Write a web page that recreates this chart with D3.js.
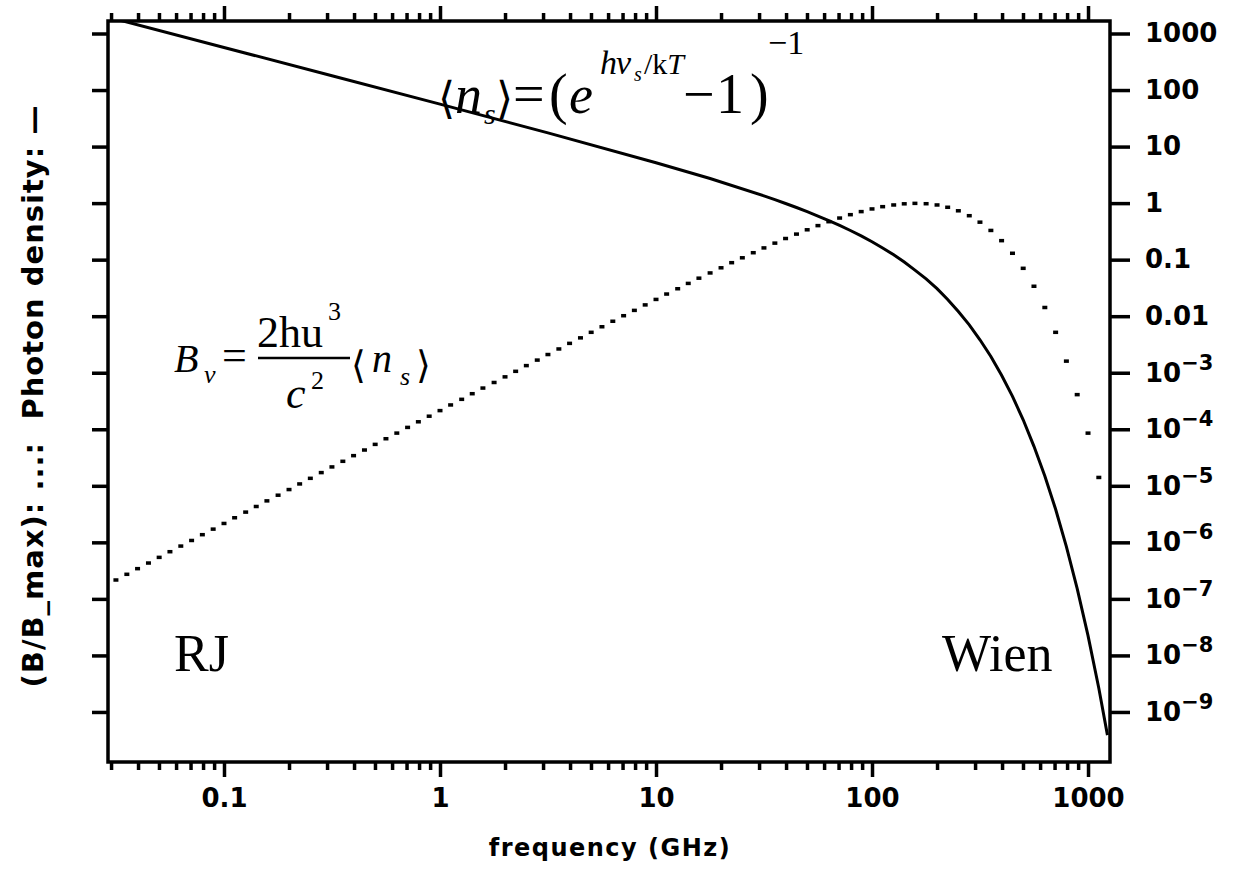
<!DOCTYPE html>
<html>
<head>
<meta charset="utf-8">
<script src="https://cdn.jsdelivr.net/npm/d3@7"></script>
<style>
  body { margin: 0; background: #fff; }
  text { fill: #000; }
</style>
</head>
<body>
<div id="chart"></div>
<script>
// frequency grid of the Planck points (GHz)
const freqGHz = [0.0316, 0.0355, 0.0398, 0.0447, 0.0501, 0.0562, 0.0631, 0.0708, 0.0794, 0.0891,
  0.1, 0.112, 0.126, 0.141, 0.158, 0.178, 0.2, 0.224, 0.251, 0.282,
  0.316, 0.355, 0.398, 0.447, 0.501, 0.562, 0.631, 0.708, 0.794, 0.891,
  1, 1.12, 1.26, 1.41, 1.58, 1.78, 2.0, 2.24, 2.51, 2.82,
  3.16, 3.55, 3.98, 4.47, 5.01, 5.62, 6.31, 7.08, 7.94, 8.91,
  10, 11.2, 12.6, 14.1, 15.8, 17.8, 20, 22.4, 25.1, 28.2,
  31.6, 35.5, 39.8, 44.7, 50.1, 56.2, 63.1, 70.8, 79.4, 89.1,
  100, 112, 126, 141, 158, 178, 200, 224, 251, 282,
  316, 355, 398, 447, 501, 562, 631, 708, 794, 891,
  1000, 1122];

// B / B_max  (dotted)
const brightness = [2.18e-7, 2.75e-7, 3.46e-7, 4.35e-7, 5.48e-7, 6.90e-7, 8.68e-7, 1.09e-6, 1.38e-6, 1.73e-6,
  2.18e-6, 2.75e-6, 3.46e-6, 4.35e-6, 5.47e-6, 6.89e-6, 8.67e-6, 1.09e-5, 1.37e-5, 1.73e-5,
  2.18e-5, 2.74e-5, 3.45e-5, 4.34e-5, 5.46e-5, 6.87e-5, 8.64e-5, 1.09e-4, 1.37e-4, 1.72e-4,
  2.16e-4, 2.72e-4, 3.42e-4, 4.30e-4, 5.41e-4, 6.79e-4, 8.54e-4, 1.07e-3, 1.35e-3, 1.69e-3,
  2.12e-3, 2.66e-3, 3.34e-3, 4.18e-3, 5.24e-3, 6.57e-3, 8.22e-3, 0.0103, 0.0128, 0.0160,
  0.0200, 0.0249, 0.0309, 0.0384, 0.0475, 0.0588, 0.0725, 0.0893, 0.109, 0.134,
  0.163, 0.198, 0.239, 0.286, 0.341, 0.404, 0.474, 0.550, 0.631, 0.715,
  0.797, 0.874, 0.937, 0.982, 1.000, 0.986, 0.937, 0.853, 0.739, 0.605,
  0.465, 0.332, 0.219, 0.131, 0.0710, 0.0342, 0.0144, 5.24e-3, 1.62e-3, 4.14e-4,
  8.63e-5, 1.42e-5];

// photon occupation number <n_s> (solid)
const lineFreqGHz = [0.0316, 0.1, 0.316, 1, 3.16, 10, 17.8,
  31.6, 35.5, 39.8, 44.7, 50.1, 56.2, 63.1, 70.8, 79.4, 89.1,
  100, 112, 126, 141, 158, 178, 200, 224, 251, 282,
  316, 355, 398, 447, 501, 562, 631, 708, 794, 891,
  1000, 1122, 1230];
const occupancy = [1795, 567, 179, 56.3, 17.5, 5.19, 2.72,
  1.34, 1.15, 0.984, 0.836, 0.706, 0.591, 0.491, 0.403, 0.328, 0.263,
  0.207, 0.161, 0.122, 0.0906, 0.0653, 0.0456, 0.0307, 0.0198, 0.0121, 7.04e-3,
  3.83e-3, 1.94e-3, 9.02e-4, 3.83e-4, 1.47e-4, 4.99e-5, 1.49e-5, 3.85e-6, 8.40e-7, 1.52e-7,
  2.24e-8, 2.62e-9, 3.89e-10];

const xTickValues = [0.1, 1, 10, 100, 1000];
const xTickLabels = ['0.1', '1', '10', '100', '1000'];
const yTickValues = [1000, 100, 10, 1, 0.1, 0.01, 1e-3, 1e-4, 1e-5, 1e-6, 1e-7, 1e-8, 1e-9];
const yTickLabels = ['1000', '100', '10', '1', '0.1', '0.01',
  '10^\u22123', '10^\u22124', '10^\u22125', '10^\u22126', '10^\u22127', '10^\u22128', '10^\u22129'];

function makeGraph() {
    const w = 1235, h = 871;
    const left = 108, right = 1110, top = 21, bottom = 762;
    const pixelFont = '"DejaVu Sans", sans-serif';

    const svg = d3.select('#chart')
        .append('svg')
        .attr('width', w)
        .attr('height', h);

    const xScale = d3.scaleLog().domain([0.02904, 1264]).range([left, right]);
    const yScale = d3.scaleLog().domain([1664, 1.303e-10]).range([top, bottom]);

    svg.append('clipPath').attr('id', 'plot-clip')
        .append('rect')
        .attr('x', left).attr('y', top)
        .attr('width', right - left).attr('height', bottom - top);

    const plot = svg.append('g').attr('clip-path', 'url(#plot-clip)');

    // solid line: occupation number
    const line = d3.line()
        .x((d, i) => xScale(lineFreqGHz[i]))
        .y(d => yScale(d));
    plot.append('path')
        .datum(occupancy)
        .attr('d', line)
        .attr('fill', 'none')
        .attr('stroke', '#000')
        .attr('stroke-width', 3);

    // dotted: normalised brightness
    plot.selectAll('.dot')
        .data(brightness)
        .enter()
        .append('rect')
        .attr('class', 'dot')
        .attr('x', (d, i) => xScale(freqGHz[i]) - 2.5)
        .attr('y', d => yScale(d) - 1.5)
        .attr('width', 5)
        .attr('height', 3.5)
        .attr('fill', '#000');

    // axes
    const minor = xScale.ticks().filter(v => !xTickValues.includes(v));

    function styleAxis(g) {
        g.select('.domain').remove();
        g.selectAll('line').attr('stroke', '#000').attr('stroke-width', 3.5);
        g.attr('font-family', pixelFont).attr('font-size', 26).attr('font-weight', 'bold');
    }

    svg.append('g').attr('transform', `translate(0,${bottom})`)
        .call(d3.axisBottom(xScale).tickValues(minor).tickSize(8).tickFormat(() => ''))
        .call(styleAxis);
    svg.append('g').attr('transform', `translate(0,${bottom})`)
        .call(d3.axisBottom(xScale).tickValues(xTickValues).tickSize(15).tickPadding(12)
            .tickFormat((d, i) => xTickLabels[i]))
        .call(styleAxis);
    svg.append('g').attr('transform', `translate(0,${top})`)
        .call(d3.axisTop(xScale).tickValues(minor).tickSize(8).tickFormat(() => ''))
        .call(styleAxis);
    svg.append('g').attr('transform', `translate(0,${top})`)
        .call(d3.axisTop(xScale).tickValues(xTickValues).tickSize(15).tickFormat(() => ''))
        .call(styleAxis);

    svg.append('g').attr('transform', `translate(${left},0)`)
        .call(d3.axisLeft(yScale).tickValues(yTickValues).tickSize(16).tickFormat(() => ''))
        .call(styleAxis);

    const gR = svg.append('g').attr('transform', `translate(${right},0)`)
        .call(d3.axisRight(yScale).tickValues(yTickValues).tickSize(20).tickPadding(15)
            .tickFormat(() => ''))
        .call(styleAxis);
    gR.selectAll('.tick text').each(function(d, i) {
        const t = d3.select(this);
        const parts = yTickLabels[i].split('^');
        t.append('tspan').text(parts[0]);
        if (parts.length > 1) {
            t.append('tspan').attr('dy', -12).attr('font-size', 21).text(parts[1]);
        }
    });

    // frame
    svg.append('rect')
        .attr('x', left).attr('y', top)
        .attr('width', right - left).attr('height', bottom - top)
        .attr('fill', 'none')
        .attr('stroke', '#000')
        .attr('stroke-width', 3.5);

    // axis titles
    svg.append('text')
        .attr('x', 610).attr('y', 856)
        .attr('text-anchor', 'middle')
        .style('font-family', pixelFont)
        .style('font-weight', 'bold')
        .style('font-size', '24px')
        .style('letter-spacing', '1.5px')
        .text('frequency (GHz)');

    svg.append('text')
        .attr('transform', 'translate(43,396) rotate(-90)')
        .attr('text-anchor', 'middle')
        .style('font-family', pixelFont)
        .style('font-weight', 'bold')
        .style('font-size', '29px')
        .style('letter-spacing', '1px')
        .style('white-space', 'pre')
        .text('(B/B_max): ...:  Photon density: \u2014');

    // equations and labels
    function put(txt, x, y, size, italic, family) {
        return svg.append('text')
            .attr('x', x).attr('y', y)
            .style('font-family', family || '"Liberation Serif", "Times New Roman", serif')
            .style('font-size', size + 'px')
            .style('font-style', italic ? 'italic' : 'normal')
            .text(txt);
    }
    const bracketFont = '"DejaVu Serif", serif';

    // <n_s> = (e^{h nu_s / kT} - 1)^-1
    put('\u27E8', 438, 113, 44, false, bracketFont);
    put('n', 455, 113, 54, true);
    put('s', 484, 124, 30, true);
    put('\u27E9', 496, 113, 44, false, bracketFont);
    put('=', 513, 113, 56, false);
    put('(', 549, 113, 56, false);
    put('e', 569, 113, 54, true);
    put('h', 600, 74, 34, true);
    put('\u03BD', 616, 74, 34, true);
    put('s', 634, 81, 20, true);
    const kt = put('/k', 644, 74, 30, false);
    kt.append('tspan').style('font-style', 'italic').text('T');
    put('\u2212', 683, 113, 56, false);
    put('1', 716, 113, 56, false);
    put(')', 750, 113, 56, false);
    put('\u22121', 768, 54, 34, false);

    // B_nu = 2hu^3 / c^2 <n_s>
    put('B', 174, 372, 40, true);
    put('\u03BD', 204, 383, 26, true);
    put('=', 222, 370, 44, false);
    put('2hu', 257, 347, 44, false);
    put('3', 328, 320, 26, false);
    svg.append('line')
        .attr('x1', 258).attr('x2', 350)
        .attr('y1', 358).attr('y2', 358)
        .attr('stroke', '#000').attr('stroke-width', 2.5);
    put('c', 286, 408, 44, true);
    put('2', 311, 389, 26, false);
    put('\u27E8', 351, 378, 38, false, bracketFont);
    put('n', 372, 372, 40, true);
    put('s', 400, 385, 26, true);
    put('\u27E9', 416, 378, 38, false, bracketFont);

    put('RJ', 174, 671, 52, false);
    put('Wien', 942, 671, 52, false);
}

window.onload = () => {
    makeGraph();
};
</script>
</body>
</html>
